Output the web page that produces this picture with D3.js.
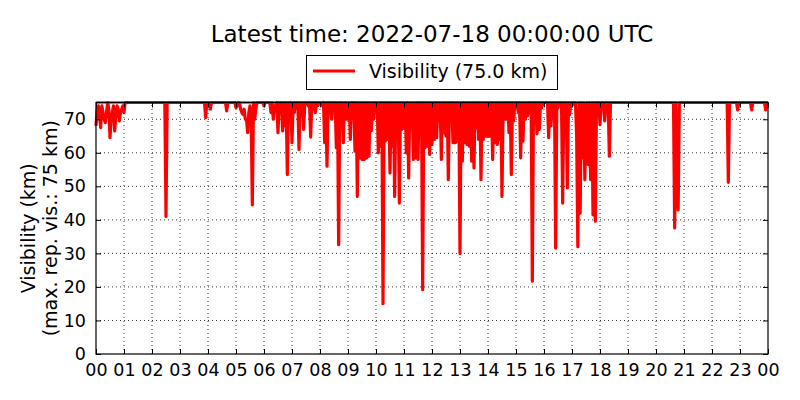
<!DOCTYPE html>
<html lang="en">
<head>
  <meta charset="UTF-8">
  <title>Visibility</title>
  <style>
    body { margin: 0; background: white; }
    text { font-family: 'DejaVu Sans', sans-serif; fill: black; }
    .grid line { stroke: black; stroke-width: 0.8; stroke-dasharray: 1,3; }
  </style>
  <script src="https://d3js.org/d3.v7.min.js"></script>
</head>
<body>
<svg id="chart"></svg>
<script>

// one reading every 2.5 minutes, 00:00 -> 24:00 (24 readings per row = 1 hour)
const stepMinutes = 2.5;
const visibility = [
  68,73,74,71,67.5,74,72,70,69,72,75,73, 64.5,70,72,74,66.5,71,74,73,69.5,72,73,74,        // 00
  72,75,75,75,75,75,75,75,75,75,75,75, 75,75,75,75,75,75,75,75,75,75,75,75,               // 01
  75,75,75,75,75,75,75,75,75,75,75,75, 41,75,75,75,75,75,75,75,75,75,75,75,               // 02
  75,75,75,75,75,75,75,75,75,75,75,75, 75,75,75,75,75,75,75,75,75,75,70.5,75,             // 03
  75,75,73,75,75,75,75,75,75,75,75,75, 75,75,75,75,72.5,75,75,75,75,75,75,75,             // 04
  73.5,74,75,75,73,72,71.5,73,70,70,66,72, 74,70,44.5,75,70,73,75,75,75,75,75,75,         // 05
  74,75,75,75,75,75,72,75,70,74,74,75, 66,75,75,75,66.5,75,68,75,53.5,75,74,75,           // 06
  63,75,72,75,75,75,61,75,73,75,67,75, 75,75,74,75,64.7,75,73,75,72,75,74,75,             // 07
  75,75,74,75,63,75,56,75,72,75,70,75, 75,75,61.5,75,32.6,75,75,75,63,75,70,75,           // 08
  70,75,64,75,75,75,60.5,75,47,75,58.5,75, 58,75,58,75,58.5,75,59,75,66.5,75,70,75,       // 09
  75,75,60,75,62,75,15,75,63.5,75,64,75, 54,75,62,75,47,75,68.4,75,45,75,67,75,           // 10
  67.5,75,60,75,52.5,75,68.4,75,58,75,58.5,75, 58,75,70,75,19.2,75,61.5,75,62,75,59.5,75, // 11
  62.5,75,64,75,64.5,75,69.5,75,58,75,66,75, 65,75,52,75,75,75,63,75,63,75,63.5,75,       // 12
  30,75,57.5,75,63,75,62.5,75,62,75,57.5,75, 55.5,75,67.5,75,64,75,52,75,64,75,65,75,     // 13
  65,75,65,75,58,75,63,75,62.5,75,64,75, 47,75,70,75,70,75,66,75,53.5,75,69.5,75,         // 14
  75,75,72,75,58.5,75,63.5,75,70,75,71,75, 72,75,21.7,75,71,75,65.7,75,67,75,73.4,75,     // 15
  75,75,75,75,64.5,75,68,75,75,75,31.6,75, 73.4,75,75,75,45,75,64.5,75,49.5,75,71.4,75,   // 16
  74,75,75,75,64.5,32,75,42,75,58.5,75,52, 71.4,75,56.5,75,52,75,41.5,75,39.6,75,75,75,   // 17
  68.4,75,75,75,69.5,75,75,75,59,75,75,75, 75,75,75,75,75,75,75,75,75,75,75,75,           // 18
  75,75,75,75,75,75,75,75,75,75,75,75, 75,75,75,75,75,75,75,75,75,75,75,75,               // 19
  75,75,75,75,75,75,75,75,75,75,75,75, 75,75,75,75,37.6,75,50.4,43,75,75,75,75,           // 20
  75,75,75,75,75,75,75,75,75,75,75,75, 75,75,75,75,75,75,75,75,75,75,75,75,               // 21
  75,75,75,75,75,75,75,75,75,75,75,75, 75,75,51.2,75,75,75,75,75,75,75,72.8,75,           // 22
  75,75,75,75,75,75,75,75,75,75,72.8,75, 75,75,75,75,75,75,75,75,75,75,72.8,75,           // 23
  75
];
const maxVisibility = 75;
const hourTicks = d3.range(0, 25);
const hourLabels = hourTicks.map(function(h) { return d3.format('02d')(h % 24); });
const yTicks = [0, 10, 20, 30, 40, 50, 60, 70];
const titleText = 'Latest time: 2022-07-18 00:00:00 UTC';
const legendText = 'Visibility (75.0 km)';
const yLabel1 = 'Visibility (km)';
const yLabel2 = '(max. rep. vis.: 75 km)';

const size = {width: 800, height: 400};
const margin = {top: 102.5, right: 32, bottom: 46, left: 96};

const svg = d3.select('#chart')
              .attr('width', size.width)
              .attr('height', size.height);

const xScale = d3.scaleLinear()
                 .domain([0, 24])
                 .range([margin.left, size.width - margin.right]);
const yScale = d3.scaleLinear()
                 .domain([0, 75])
                 .range([size.height - margin.bottom, margin.top]);

const x0 = xScale.range()[0], x1 = xScale.range()[1];
const y0 = yScale.range()[0], y1 = yScale.range()[1];

// dotted grid
const grid = svg.append('g').attr('class', 'grid');
grid.selectAll('.gx')
    .data(hourTicks.slice(1, -1))
    .enter().append('line')
    .attr('x1', function(d) { return xScale(d); })
    .attr('x2', function(d) { return xScale(d); })
    .attr('y1', y0).attr('y2', y1);
grid.selectAll('.gy')
    .data(yTicks.slice(1))
    .enter().append('line')
    .attr('x1', x0).attr('x2', x1)
    .attr('y1', function(d) { return yScale(d); })
    .attr('y2', function(d) { return yScale(d); });

// max reported visibility
svg.append('line')
   .attr('x1', x0).attr('x2', x1)
   .attr('y1', yScale(maxVisibility)).attr('y2', yScale(maxVisibility))
   .attr('stroke', '#999')
   .attr('stroke-width', 3);

const line = d3.line()
               .x(function(d, i) { return xScale(i * stepMinutes / 60); })
               .y(function(d) { return yScale(d); });

svg.append('path')
   .datum(visibility)
   .attr('d', line)
   .attr('fill', 'none')
   .attr('stroke', 'red')
   .attr('stroke-width', 3.2)
   .attr('stroke-linejoin', 'round');

// frame
svg.append('rect')
   .attr('x', x0).attr('y', y1)
   .attr('width', x1 - x0).attr('height', y0 - y1)
   .attr('fill', 'none')
   .attr('stroke', 'black')
   .attr('stroke-width', 1.2);

// axes with inward ticks on all four sides
const xAxis = d3.axisBottom(xScale)
                .tickValues(hourTicks)
                .tickSize(-5)
                .tickPadding(10)
                .tickFormat(function(d, i) { return hourLabels[i]; });
const xTop = d3.axisTop(xScale).tickValues(hourTicks).tickSize(-5).tickFormat('');
const yAxis = d3.axisLeft(yScale)
                .tickValues(yTicks)
                .tickSize(-5)
                .tickPadding(10)
                .tickFormat(d3.format('d'));
const yRight = d3.axisRight(yScale).tickValues(yTicks).tickSize(-5).tickFormat('');

svg.append('g').attr('transform', 'translate(0,' + y0 + ')').call(xAxis);
svg.append('g').attr('transform', 'translate(0,' + y1 + ')').call(xTop);
svg.append('g').attr('transform', 'translate(' + x0 + ',0)').call(yAxis);
svg.append('g').attr('transform', 'translate(' + x1 + ',0)').call(yRight);

svg.selectAll('.domain').remove();
svg.selectAll('.tick line').attr('stroke', 'black').attr('stroke-width', 1);
svg.selectAll('.tick text')
   .attr('fill', 'black')
   .style('font-family', "'DejaVu Sans', sans-serif")
   .style('font-size', '17.5px');

// y label (two lines)
const yMid = (y0 + y1) / 2;
svg.append('text')
   .attr('transform', 'translate(34.5,' + yMid + ') rotate(-90)')
   .attr('text-anchor', 'middle')
   .style('font-size', '19px')
   .text(yLabel1);
svg.append('text')
   .attr('transform', 'translate(56.5,' + yMid + ') rotate(-90)')
   .attr('text-anchor', 'middle')
   .style('font-size', '19px')
   .text(yLabel2);

// title
svg.append('text')
   .attr('x', 432)
   .attr('y', 42)
   .attr('text-anchor', 'middle')
   .style('font-size', '23px')
   .text(titleText);

// legend
const legend = svg.append('g');
legend.append('rect')
      .attr('x', 306.5).attr('y', 55.5)
      .attr('width', 251).attr('height', 34)
      .attr('fill', 'white')
      .attr('stroke', 'black')
      .attr('stroke-width', 1);
legend.append('line')
      .attr('x1', 313).attr('x2', 355)
      .attr('y1', 71).attr('y2', 71)
      .attr('stroke', 'red')
      .attr('stroke-width', 3);
legend.append('text')
      .attr('x', 369)
      .attr('y', 77.5)
      .style('font-size', '19px')
      .text(legendText);

</script>
</body>
</html>
